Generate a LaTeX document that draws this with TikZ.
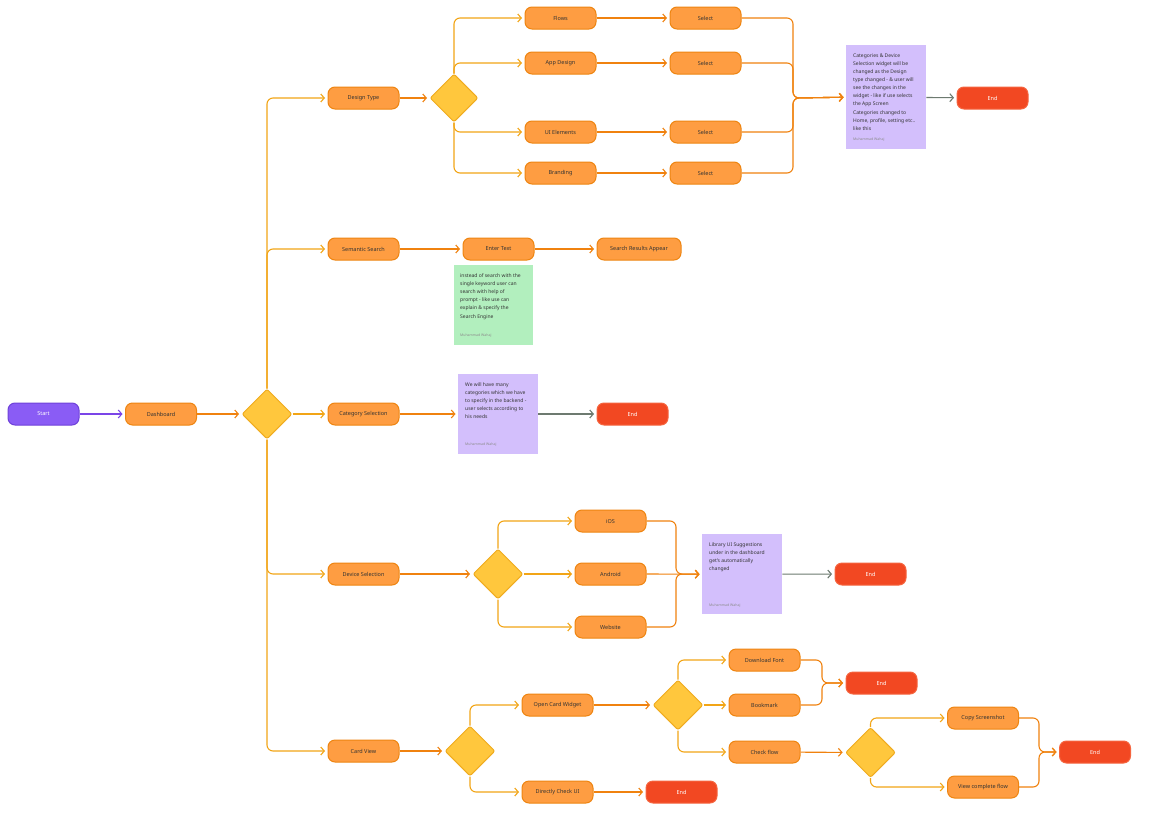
\documentclass[tikz,border=0pt]{standalone}
\usepackage{fontspec}
\setmainfont{Noto Sans}
\usetikzlibrary{shapes.geometric,arrows.meta,calc}
\definecolor{ofill}{HTML}{FE9D42}
\definecolor{oborder}{HTML}{EE8511}
\definecolor{oline}{HTML}{F0820F}
\definecolor{amber}{HTML}{F2A516}
\definecolor{dfill}{HTML}{FFC73D}
\definecolor{dborder}{HTML}{EFAB1F}
\definecolor{endfill}{HTML}{F24822}
\definecolor{endborder}{HTML}{F5653F}
\definecolor{sfill}{HTML}{8A5CF5}
\definecolor{sborder}{HTML}{6F42D9}
\definecolor{sline}{HTML}{7B45E8}
\definecolor{npurple}{HTML}{D3BFFC}
\definecolor{ngreen}{HTML}{B2EFBE}
\definecolor{greyline}{HTML}{6D7A70}
\definecolor{txt}{HTML}{333333}
\tikzset{
  every node/.style={font=\fontsize{5.5}{6.5}\selectfont},
  proc/.style={draw=oborder, fill=ofill, line width=1pt, rounded corners=7pt,
    minimum width=71pt, minimum height=22pt, inner sep=1pt, text=txt},
  startbox/.style={proc, draw=sborder, fill=sfill, text=white},
  endbox/.style={proc, draw=endborder, fill=endfill, text=white},
  decide/.style={diamond, draw=dborder, fill=dfill, line width=1pt, rounded corners=2pt,
    minimum width=50pt, minimum height=50pt, inner sep=0pt},
  note/.style={rectangle, minimum width=80pt, inner sep=0pt},
  notetxt/.style={anchor=north west, inner sep=0pt, align=left, text=txt,
    font=\fontsize{5}{8.1}\selectfont},
  authtxt/.style={anchor=west, inner sep=0pt, text=black!45, font=\fontsize{3.5}{4}\selectfont},
  conn/.style={draw=oline, line width=1.1pt, -{Straight Barb[length=3.5pt,width=8pt]}, shorten >=2.5pt},
  branch/.style={conn, draw=amber, rounded corners=6pt},
  merge/.style={conn, rounded corners=6pt},
  greyarrow/.style={conn, draw=greyline},
}
\begin{document}
\begin{tikzpicture}[x=1pt,y=-1pt]
\useasboundingbox (0,0) rectangle (1149,827);
\fill[white] (0,0) rectangle (1149,827);
% main row
\node[startbox] (start) at (43.5,414) {Start};
\node[proc] (dash) at (161,414) {Dashboard};
\node[decide] (d0) at (267,414) {};
% level 1
\node[proc] (design) at (363.5,98) {Design Type};
\node[proc] (sem) at (363.5,249) {Semantic Search};
\node[proc] (cat) at (363.5,414) {Category Selection};
\node[proc] (dev) at (363.5,574) {Device Selection};
\node[proc] (card) at (363.5,751) {Card View};
% design type branch
\node[decide, minimum width=48pt, minimum height=48pt] (d1) at (454,98) {};
\node[proc] (flows) at (560.5,18) {Flows};
\node[proc] (app) at (560.5,63) {App Design};
\node[proc] (uiel) at (560.5,132) {UI Elements};
\node[proc] (brand) at (560.5,173) {Branding};
\node[proc] (s1) at (705.5,18) {Select};
\node[proc] (s2) at (705.5,63) {Select};
\node[proc] (s3) at (705.5,132) {Select};
\node[proc] (s4) at (705.5,173) {Select};
\node[note, fill=npurple, minimum height=104pt, anchor=north west] (n1) at (846,45) {};
\node[notetxt] (n1t) at ($(n1.north west)+(7,8.5)$) {Categories \& Device\\Selection widget will be\\changed as the Design\\type changed - \& user will\\see the changes in the\\widget - like if use selects\\the App Screen\\Categories changed to\\Home, profile, setting etc..\\like this};
\node[authtxt] (n1a) at ($(n1.south west)+(7,-10)$) {Muhammad Wahaj};
\node[endbox] (e1) at (992.5,98) {End};
\coordinate (m1) at (793,98);
% semantic search
\node[proc] (enter) at (498.5,249) {Enter Text};
\node[proc, minimum width=84pt] (results) at (639,249) {Search Results Appear};
\node[note, fill=ngreen, minimum height=80pt, minimum width=79pt, anchor=north west] (n2) at (454,265) {};
\node[notetxt] (n2t) at ($(n2.north west)+(6,8.5)$) {instead of search with the\\single keyword user can\\search with help of\\prompt - like use can\\explain \& specify the\\Search Engine};
\node[authtxt] (n2a) at ($(n2.south west)+(6,-10)$) {Muhammad Wahaj};
% category
\node[note, fill=npurple, minimum height=80pt, anchor=north west] (n3) at (458,374) {};
\node[notetxt] (n3t) at ($(n3.north west)+(7,8.5)$) {We will have many\\categories which we have\\to specify in the backend -\\user selects according to\\his needs};
\node[authtxt] (n3a) at ($(n3.south west)+(7,-10)$) {Muhammad Wahaj};
\node[endbox] (e2) at (632.5,414) {End};
% device
\node[decide] (d2) at (498,574) {};
\node[proc] (ios) at (610.5,521) {iOS};
\node[proc] (android) at (610.5,574) {Android};
\node[proc] (web) at (610.5,627) {Website};
\coordinate (m2) at (676,574);
\node[note, fill=npurple, minimum height=80pt, anchor=north west] (n4) at (702,534) {};
\node[notetxt] (n4t) at ($(n4.north west)+(7,8.5)$) {Library UI Suggestions\\under in the dashboard\\get's automatically\\changed};
\node[authtxt] (n4a) at ($(n4.south west)+(7,-9)$) {Muhammad Wahaj};
\node[endbox] (e3) at (870.5,574) {End};
% card view
\node[decide] (d3) at (470,751) {};
\node[proc] (open) at (557.5,705) {Open Card Widget};
\node[proc] (direct) at (557.5,792) {Directly Check UI};
\node[endbox] (e4) at (681.5,792) {End};
\node[decide] (d4) at (678,705) {};
\node[proc] (font) at (764.5,660) {Download Font};
\node[proc] (book) at (764.5,705) {Bookmark};
\node[proc] (check) at (764.5,752) {Check flow};
\coordinate (m3) at (822,683);
\node[endbox] (e5) at (881.5,683) {End};
\node[decide] (d5) at (870.5,752.5) {};
\node[proc] (copy) at (983,718) {Copy Screenshot};
\node[proc] (view) at (983,787) {View complete flow};
\coordinate (m4) at (1039,752);
\node[endbox] (e6) at (1095,752) {End};
% connectors
\draw[conn, draw=sline] (start) -- (dash);
\draw[conn] (dash) -- (d0);
\draw[branch] (d0.north) |- (design.west);
\draw[branch] (d0.north) |- (sem.west);
\draw[branch] (d0.east) -- (cat.west);
\draw[branch] (d0.south) |- (dev.west);
\draw[branch] (d0.south) |- (card.west);
% design
\draw[conn] (design) -- (d1);
\draw[branch] (d1.north) |- (flows.west);
\draw[branch] (d1.north) |- (app.west);
\draw[branch] (d1.south) |- (uiel.west);
\draw[branch] (d1.south) |- (brand.west);
\draw[conn] (flows) -- (s1);
\draw[conn] (app) -- (s2);
\draw[conn] (uiel) -- (s3);
\draw[conn] (brand) -- (s4);
\draw[merge] (s1.east) -| (m1) -- (n1.west);
\draw[merge] (s2.east) -| (m1) -- (n1.west);
\draw[merge] (s3.east) -| (m1) -- (n1.west);
\draw[merge] (s4.east) -| (m1) -- (n1.west);
\draw[greyarrow] (n1) -- (e1);
% semantic
\draw[conn] (sem) -- (enter);
\draw[conn] (enter) -- (results);
% category
\draw[conn] (cat) -- (cat -| n3.west);
\draw[greyarrow] (n3.east |- e2) -- (e2);
% device
\draw[conn] (dev) -- (d2);
\draw[branch] (d2.north) |- (ios.west);
\draw[branch] (d2.east) -- (android.west);
\draw[branch] (d2.south) |- (web.west);
\draw[merge] (ios.east) -| (m2) -- (n4.west);
\draw[merge] (android.east) -- (n4.west);
\draw[merge] (web.east) -| (m2) -- (n4.west);
\draw[greyarrow] (n4) -- (e3);
% card
\draw[conn] (card) -- (d3);
\draw[branch] (d3.north) |- (open.west);
\draw[branch] (d3.south) |- (direct.west);
\draw[conn] (direct) -- (e4);
\draw[conn] (open) -- (d4);
\draw[branch] (d4.north) |- (font.west);
\draw[branch] (d4.east) -- (book.west);
\draw[branch] (d4.south) |- (check.west);
\draw[merge] (font.east) -| (m3) -- (e5.west);
\draw[merge] (book.east) -| (m3) -- (e5.west);
\draw[conn] (check) -- (d5);
\draw[branch] (d5.north) |- (copy.west);
\draw[branch] (d5.south) |- (view.west);
\draw[merge] (copy.east) -| (m4) -- (e6.west);
\draw[merge] (view.east) -| (m4) -- (e6.west);
\end{tikzpicture}
\end{document}
